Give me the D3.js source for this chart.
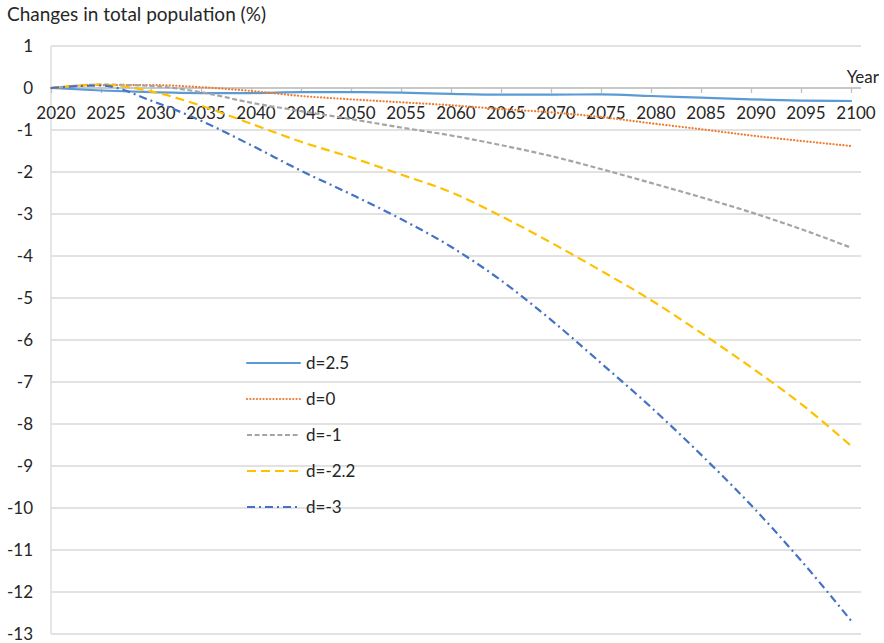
<!DOCTYPE html>
<html>
<head>
<meta charset="utf-8">
<script src="https://cdn.jsdelivr.net/npm/d3@7/dist/d3.min.js"></script>
<style>
  html, body { margin: 0; padding: 0; background: #fff; }
  svg { display: block; font-family: Lato, "Open Sans", sans-serif; }
</style>
</head>
<body>
<svg id="chart" width="884" height="643"></svg>
<script>
// ---- data ----
const years = [2020, 2025, 2030, 2035, 2040, 2045, 2050, 2055, 2060, 2065, 2070, 2075, 2080, 2085, 2090, 2095, 2100];
const seriesNames = ["d=2.5", "d=0", "d=-1", "d=-2.2", "d=-3"];
const dPos25  = [0, -0.06, -0.10, -0.12, -0.12, -0.10, -0.10, -0.11, -0.14, -0.16, -0.16, -0.15, -0.19, -0.23, -0.27, -0.30, -0.31];
const dZero   = [0, 0.07, 0.07, 0.02, -0.07, -0.19, -0.27, -0.34, -0.41, -0.50, -0.58, -0.69, -0.84, -0.98, -1.13, -1.26, -1.38];
const dNeg1   = [0, 0.08, 0.05, -0.10, -0.35, -0.55, -0.74, -0.94, -1.13, -1.36, -1.62, -1.93, -2.26, -2.60, -2.96, -3.36, -3.80];
const dNeg22  = [0, 0.08, -0.08, -0.42, -0.85, -1.28, -1.65, -2.06, -2.48, -3.05, -3.68, -4.35, -5.05, -5.83, -6.65, -7.52, -8.52];
const dNeg3   = [0, 0.06, -0.30, -0.78, -1.36, -1.97, -2.53, -3.12, -3.78, -4.58, -5.52, -6.55, -7.60, -8.73, -9.93, -11.25, -12.68];
const yTicks  = [1, 0, -1, -2, -3, -4, -5, -6, -7, -8, -9, -10, -11, -12, -13];
const title = "Changes in total population (%)";
const xTitle = "Year";

// ---- styles ----
const styles = [
  { color: "#5B9BD5", dash: null,          cap: "round" },
  { color: "#ED7D31", dash: "0.1 3.2",     cap: "round" },
  { color: "#A5A5A5", dash: "5 2.6",       cap: "butt"  },
  { color: "#FFC000", dash: "9 5",         cap: "butt"  },
  { color: "#4472C4", dash: "8 4 2 4",     cap: "butt"  }
];
const values = [dPos25, dZero, dNeg1, dNeg22, dNeg3];

const svg = d3.select("#chart");
const left = 51, right = 861;
const x = d3.scaleLinear().domain([2020, 2100]).range([51, 851]);
const y = d3.scaleLinear().domain([1, -13]).range([46, 634]);

// gridlines
svg.append("g").selectAll("line").data(yTicks).join("line")
  .attr("x1", left).attr("x2", right)
  .attr("y1", d => y(d)).attr("y2", d => y(d))
  .attr("stroke", "#d9d9d9").attr("stroke-width", 1.3);

// left axis line
svg.append("line").attr("x1", left).attr("x2", left).attr("y1", y(1)).attr("y2", y(-13))
  .attr("stroke", "#d9d9d9").attr("stroke-width", 1.3);

// y axis labels
const yAxis = d3.axisLeft(y).tickValues(yTicks).tickSize(0).tickPadding(0).tickFormat(d => String(d));
const gy = svg.append("g").attr("transform", "translate(33,0)").call(yAxis);
gy.select(".domain").remove();
gy.selectAll("text").attr("font-size", 17).attr("fill", "#262626").attr("font-family", "Lato, sans-serif");

// x axis at 0
const xAxis = d3.axisBottom(x).tickValues(years).tickSize(5).tickPadding(14).tickFormat(d3.format("d"));
const gx = svg.append("g").attr("transform", `translate(0,${y(0)})`).call(xAxis);
gx.select(".domain").remove();
gx.append("line").attr("x1", left).attr("x2", right).attr("stroke", "#bfbfbf").attr("stroke-width", 1.3);
gx.selectAll(".tick line").attr("stroke", "#bfbfbf").attr("stroke-width", 1.3);
gx.selectAll(".tick text").attr("font-size", 17).attr("fill", "#262626").attr("dx", 4.5)
  .attr("font-family", "Lato, sans-serif");

// lines
const line = d3.line().x((d, i) => x(years[i])).y(d => y(d)).curve(d3.curveMonotoneX);
values.forEach((vals, k) => {
  svg.append("path").datum(vals)
    .attr("d", line)
    .attr("fill", "none")
    .attr("stroke", styles[k].color)
    .attr("stroke-width", 2.2)
    .attr("stroke-linecap", styles[k].cap)
    .attr("stroke-dasharray", styles[k].dash);
});

// legend
const lg = svg.append("g");
seriesNames.forEach((name, k) => {
  const ly = 363 + k * 36;
  lg.append("line").attr("x1", 247).attr("x2", 300).attr("y1", ly).attr("y2", ly)
    .attr("stroke", styles[k].color).attr("stroke-width", 2.2)
    .attr("stroke-linecap", styles[k].cap)
    .attr("stroke-dasharray", styles[k].dash);
  lg.append("text").attr("x", 306).attr("y", ly).attr("dy", "0.35em")
    .attr("font-size", 17).attr("fill", "#262626").text(name);
});

// titles
svg.append("text").attr("x", 7).attr("y", 21).attr("font-size", 19).attr("fill", "#262626").text(title);
svg.append("text").attr("x", 879).attr("y", 83).attr("text-anchor", "end").attr("font-size", 17).attr("fill", "#262626").text(xTitle);
</script>
</body>
</html>
